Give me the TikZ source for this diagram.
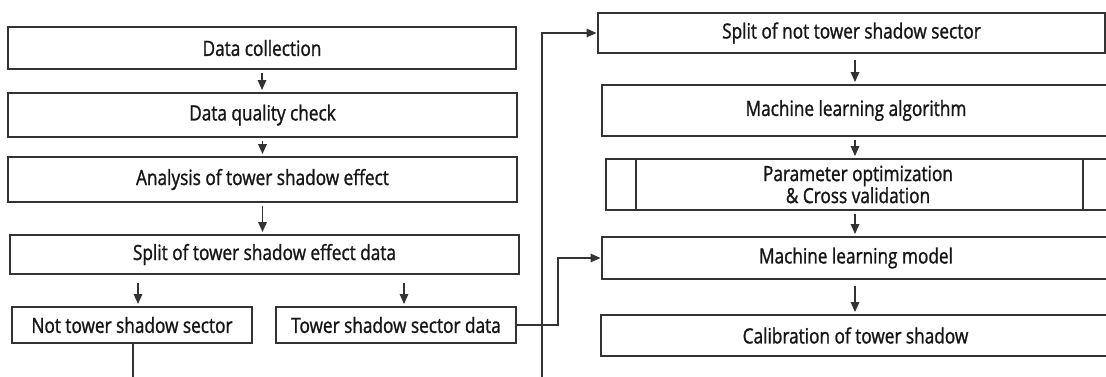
\documentclass[tikz,border=0pt]{standalone}
\usepackage{fontspec}
\setmainfont{Open Sans}[FakeStretch=0.82,FakeBold=1.2]
\usetikzlibrary{arrows.meta}
\definecolor{edge}{HTML}{333333}
\definecolor{ink}{HTML}{161616}
\begin{document}
\begin{tikzpicture}[x=1pt,y=-1pt,
  stepbox/.style={draw=edge, line width=1.9pt, fill=white, inner sep=0pt,
    text=ink, font=\fontsize{21}{22}\selectfont, align=center},
  link/.style={draw=edge, line width=1.5pt},
  tip/.style={-{Triangle[length=10pt,width=8.5pt]}},
  arr/.style={link, tip, shorten <=3pt, shorten >=2pt},
  feed/.style={link, tip, shorten >=0.5pt}]
\useasboundingbox (0,0) rectangle (1106,377);
\clip (0,0) rectangle (1106,377);

% left column
\node[stepbox, minimum width=508pt, minimum height=42pt] (dc) at (262,48) {Data collection};
\node[stepbox, minimum width=509pt, minimum height=44pt] (dq) at (262.5,115) {Data quality check};
\node[stepbox, minimum width=509pt, minimum height=45pt] (an) at (262.5,179.5) {Analysis of tower shadow effect};
\node[stepbox, minimum width=509pt, minimum height=39pt] (sp) at (264.5,254.5) {Split of tower shadow effect data};
\node[stepbox, minimum width=240pt, minimum height=36pt] (nts) at (132,325) {Not tower shadow sector};
\node[stepbox, minimum width=240pt, minimum height=36pt] (tsd) at (396,325) {Tower shadow sector data};

% right column
\node[stepbox, minimum width=507pt, minimum height=40pt] (r1) at (851.5,33) {Split of not tower shadow sector};
\node[stepbox, minimum width=508pt, minimum height=51pt] (r2) at (856,110.5) {Machine learning algorithm};
\node[stepbox, minimum width=504pt, minimum height=51pt] (r3) at (858,184.5) {Parameter optimization\\\& Cross validation};
\node[stepbox, minimum width=508pt, minimum height=42pt] (r4) at (856,258) {Machine learning model};
\node[stepbox, minimum width=509pt, minimum height=41pt] (r5) at (855.5,335.5) {Calibration of tower shadow};

% side bars of the predefined-process box
\coordinate (pl) at (636,0);
\coordinate (pr) at (1083,0);
\draw[link, line width=1.9pt] (r3.north -| pl) -- (r3.south -| pl);
\draw[link, line width=1.9pt] (r3.north -| pr) -- (r3.south -| pr);

% arrows down the left column
\draw[arr] (dc.south) -- (dc.south |- dq.north);
\draw[arr] (dq.south) -- (dq.south |- an.north);
\draw[arr] (an.south) -- (an.south |- sp.north);
\coordinate (a1) at (138,0);
\coordinate (a2) at (404,0);
\draw[arr, shorten <=8pt] (sp.south -| a1) -- (nts.north -| a1);
\draw[arr, shorten <=8pt] (sp.south -| a2) -- (tsd.north -| a2);

% arrows down the right column
\coordinate (col) at (855,0);
\draw[arr, shorten <=6pt] (r1.south -| col) -- (r2.north -| col);
\draw[arr] (r2.south -| col) -- (r3.north -| col);
\draw[arr] (r3.south -| col) -- (r4.north -| col);
\draw[arr, shorten <=6pt] (r4.south -| col) -- (r5.north -| col);

% feedback lines between the columns
\coordinate (lowL) at (133,395);
\coordinate (bus) at (542,395);
\draw[feed] (nts.south -| lowL) -- (lowL) -- (bus) |- (r1.west);
\coordinate (elb) at (558,0);
\draw[feed] (tsd.east) -- (tsd.east -| elb) |- (r4.west);
\end{tikzpicture}
\end{document}
